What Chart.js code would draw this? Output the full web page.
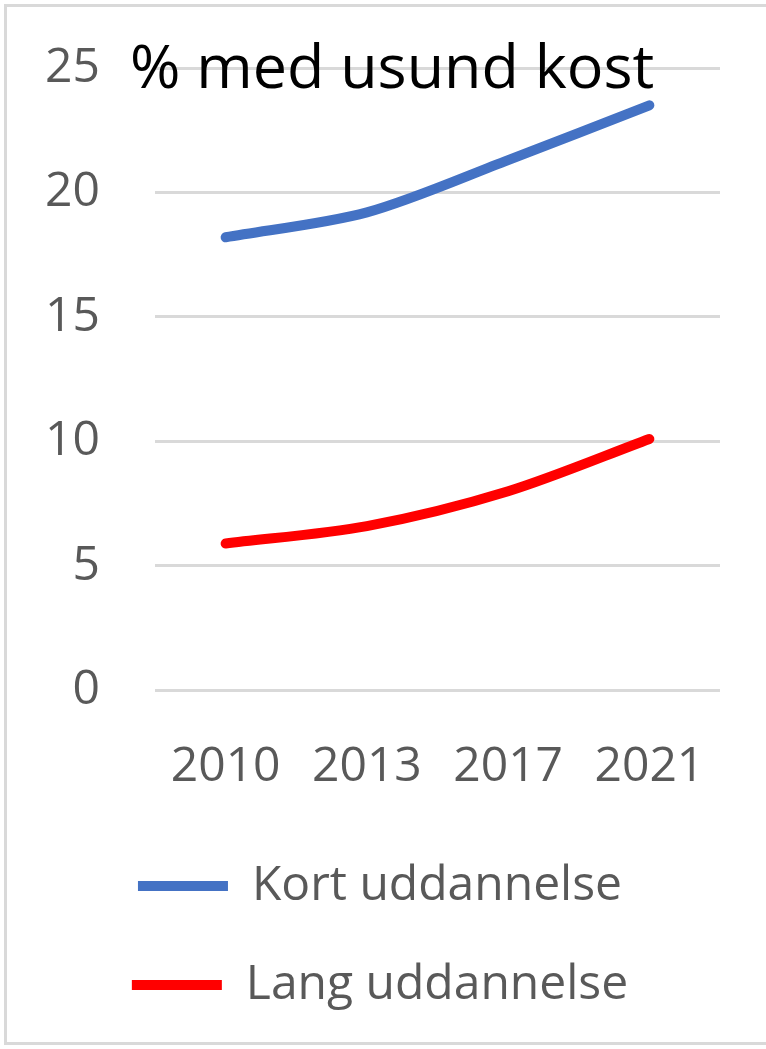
<!DOCTYPE html>
<html>
<head>
<meta charset="utf-8">
<script src="https://cdn.jsdelivr.net/npm/chart.js@4.4.1/dist/chart.umd.min.js"></script>
<style>
  body { margin: 0; background: #fff; }
  #frame { position: absolute; left: 4px; top: 4px; width: 780px; height: 1041px; border: 3px solid #d9d9d9; box-sizing: border-box; }
  #wrap { position: absolute; left: 0; top: 0; width: 766px; height: 1049px; }
</style>
</head>
<body>
<div id="frame"></div>
<div id="wrap"><canvas id="myChart"></canvas></div>
<script>
const years = ['2010', '2013', '2017', '2021'];
const kort = [18.2, 19.2, 21.3, 23.5];
const lang = [5.9, 6.6, 8.0, 10.1];
const yTicks = [0, 5, 10, 15, 20, 25];
const chartTitle = '% med usund kost';

const ctx = document.getElementById('myChart');

// title sits on top of the plot area, like in the original
const overlayTitle = {
  id: 'overlayTitle',
  afterDraw(chart) {
    const c = chart.ctx;
    c.save();
    c.font = '61px "Open Sans"';
    c.fillStyle = '#000';
    c.textBaseline = 'alphabetic';
    c.textAlign = 'left';
    c.fillText(chartTitle, 130, 88);
    c.restore();
  }
};

new Chart(ctx, {
  type: 'line',
  data: {
    labels: years,
    datasets: [{
      label: 'Kort uddannelse',
      data: kort,
      borderColor: '#4472C4',
      backgroundColor: '#4472C4',
      borderWidth: 10,
      borderCapStyle: 'round',
      pointRadius: 0,
      tension: 0.3
    },
    {
      label: 'Lang uddannelse',
      data: lang,
      borderColor: '#FF0000',
      backgroundColor: '#FF0000',
      borderWidth: 10,
      borderCapStyle: 'round',
      pointRadius: 0,
      tension: 0.3
    }]
  },
  options: {
    responsive: true,
    maintainAspectRatio: false,
    animation: false,
    layout: { padding: { left: 40, right: 46, top: 68, bottom: 30 } },
    scales: {
      x: {
        offset: true,
        grid: { display: false },
        border: { display: false },
        afterFit: axis => { axis.height -= 25; },
        ticks: { color: '#595959', font: { size: 48, family: 'Open Sans' }, padding: 40 }
      },
      y: {
        min: 0,
        max: 25,
        afterBuildTicks: axis => { axis.ticks = yTicks.map(v => ({ value: v })); },
        afterFit: axis => { axis.width = 115; axis.paddingTop = 0; axis.paddingBottom = 0; },
        grid: { color: '#d9d9d9', lineWidth: 3, drawTicks: false },
        border: { display: false },
        ticks: { color: '#595959', font: { size: 48, family: 'Open Sans' }, padding: 55 }
      }
    },
    plugins: {
      tooltip: { enabled: false },
      legend: {
        position: 'bottom',
        labels: {
          color: '#595959',
          font: { size: 48, family: 'Open Sans' },
          boxWidth: 90,
          boxHeight: 0,
          padding: 51
        }
      }
    }
  },
  plugins: [overlayTitle]
});
</script>
</body>
</html>
